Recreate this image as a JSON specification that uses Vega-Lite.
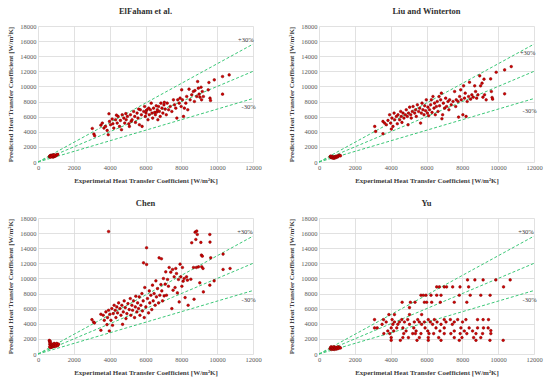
{
"$schema": "https://vega.github.io/schema/vega-lite/v6.json",
"background": "white",
"padding": {"left": 6, "top": 6, "right": 4, "bottom": 4},
"config": {
 "font": "Liberation Serif",
 "view": {"stroke": null},
 "axis": {"grid": true, "gridColor": "#d9d9d9", "gridWidth": 0.8, "domain": false, "ticks": false, "labelFont": "Liberation Serif", "labelFontSize": 6.5, "labelColor": "#595959", "labelOverlap": false, "labelFlush": false, "titleFont": "Liberation Serif", "titleFontSize": 7, "titleFontWeight": "bold", "titleColor": "#404040", "labelPadding": 2, "titlePadding": 6},
 "title": {"font": "Liberation Serif", "fontSize": 8.5, "fontWeight": "bold", "color": "#303030", "offset": 8, "anchor": "middle"}
},
"datasets": {
 "ref": [
  {"g":"a","x":0,"y":0},{"g":"a","x":12000,"y":15600},
  {"g":"b","x":0,"y":0},{"g":"b","x":12000,"y":12000},
  {"g":"c","x":0,"y":0},{"g":"c","x":12000,"y":8400}
 ],
 "lab": [
  {"p":"E","t":"+30%","x":11600,"y":16100},{"p":"E","t":"-30%","x":11750,"y":7300},
  {"p":"L","t":"+30%","x":11650,"y":14450},{"p":"L","t":"-30%","x":11750,"y":6750},
  {"p":"C","t":"+30%","x":11550,"y":16150},{"p":"C","t":"-30%","x":11750,"y":7150},
  {"p":"Y","t":"+30%","x":11550,"y":16150},{"p":"Y","t":"-30%","x":11750,"y":7150}
 ],
 "pts": [
  {"p":"E","x":3030,"y":4440},{"p":"E","x":3120,"y":3700},{"p":"E","x":3160,"y":3480},{"p":"E","x":3510,"y":4880},{"p":"E","x":3590,"y":5150},{"p":"E","x":3680,"y":4490},{"p":"E","x":3770,"y":4710},{"p":"E","x":3860,"y":4180},{"p":"E","x":3920,"y":3610},{"p":"E","x":3960,"y":6380},{"p":"E","x":3990,"y":5370},{"p":"E","x":4050,"y":4930},{"p":"E","x":4140,"y":5680},{"p":"E","x":4180,"y":5060},{"p":"E","x":4230,"y":4490},{"p":"E","x":4330,"y":5590},{"p":"E","x":4380,"y":6200},{"p":"E","x":4420,"y":5150},{"p":"E","x":4470,"y":6030},{"p":"E","x":4550,"y":4710},{"p":"E","x":4600,"y":5500},{"p":"E","x":4660,"y":4270},{"p":"E","x":4700,"y":6250},{"p":"E","x":4790,"y":5810},{"p":"E","x":4840,"y":5150},{"p":"E","x":4900,"y":6400},{"p":"E","x":4920,"y":5590},{"p":"E","x":4990,"y":6030},{"p":"E","x":5070,"y":5060},{"p":"E","x":5100,"y":4710},{"p":"E","x":5160,"y":6250},{"p":"E","x":5200,"y":5400},{"p":"E","x":5250,"y":5590},{"p":"E","x":5340,"y":6690},{"p":"E","x":5400,"y":6030},{"p":"E","x":5440,"y":5240},{"p":"E","x":5530,"y":6470},{"p":"E","x":5580,"y":5810},{"p":"E","x":5620,"y":7000},{"p":"E","x":5660,"y":4930},{"p":"E","x":5710,"y":6910},{"p":"E","x":5770,"y":6250},{"p":"E","x":5810,"y":4710},{"p":"E","x":5900,"y":6690},{"p":"E","x":5950,"y":7350},{"p":"E","x":5990,"y":6030},{"p":"E","x":6030,"y":6470},{"p":"E","x":6050,"y":6800},{"p":"E","x":6080,"y":6910},{"p":"E","x":6140,"y":5590},{"p":"E","x":6180,"y":7130},{"p":"E","x":6210,"y":6250},{"p":"E","x":6270,"y":6910},{"p":"E","x":6320,"y":7790},{"p":"E","x":6360,"y":6470},{"p":"E","x":6400,"y":5810},{"p":"E","x":6450,"y":7130},{"p":"E","x":6510,"y":6560},{"p":"E","x":6550,"y":6250},{"p":"E","x":6600,"y":7440},{"p":"E","x":6620,"y":6600},{"p":"E","x":6660,"y":6910},{"p":"E","x":6690,"y":5590},{"p":"E","x":6730,"y":7350},{"p":"E","x":6770,"y":6690},{"p":"E","x":6820,"y":6030},{"p":"E","x":6860,"y":7790},{"p":"E","x":6920,"y":7130},{"p":"E","x":6970,"y":6470},{"p":"E","x":7030,"y":7570},{"p":"E","x":7050,"y":7900},{"p":"E","x":7100,"y":7000},{"p":"E","x":7160,"y":6250},{"p":"E","x":7210,"y":7790},{"p":"E","x":7290,"y":6910},{"p":"E","x":7380,"y":7350},{"p":"E","x":7470,"y":6690},{"p":"E","x":7560,"y":8230},{"p":"E","x":7620,"y":7570},{"p":"E","x":7690,"y":7130},{"p":"E","x":7750,"y":5810},{"p":"E","x":7800,"y":8230},{"p":"E","x":7880,"y":7790},{"p":"E","x":7930,"y":8450},{"p":"E","x":7990,"y":7350},{"p":"E","x":8020,"y":9550},{"p":"E","x":8060,"y":8230},{"p":"E","x":8120,"y":6030},{"p":"E","x":8170,"y":7130},{"p":"E","x":8250,"y":7790},{"p":"E","x":8300,"y":8670},{"p":"E","x":8360,"y":6910},{"p":"E","x":8430,"y":9640},{"p":"E","x":8490,"y":8230},{"p":"E","x":8580,"y":8890},{"p":"E","x":8670,"y":9330},{"p":"E","x":8730,"y":8010},{"p":"E","x":8760,"y":9460},{"p":"E","x":8860,"y":8670},{"p":"E","x":8910,"y":10650},{"p":"E","x":8950,"y":9770},{"p":"E","x":8990,"y":8980},{"p":"E","x":9040,"y":8580},{"p":"E","x":9100,"y":9900},{"p":"E","x":9130,"y":8230},{"p":"E","x":9170,"y":9330},{"p":"E","x":9230,"y":8670},{"p":"E","x":9500,"y":9550},{"p":"E","x":9540,"y":10520},{"p":"E","x":9600,"y":8450},{"p":"E","x":9630,"y":8140},{"p":"E","x":9840,"y":10870},{"p":"E","x":10300,"y":11310},{"p":"E","x":10300,"y":8980},{"p":"E","x":10670,"y":11530},
  {"p":"E","x":640,"y":700},{"p":"E","x":660,"y":800},{"p":"E","x":680,"y":760},{"p":"E","x":700,"y":850},{"p":"E","x":720,"y":780},{"p":"E","x":740,"y":900},{"p":"E","x":760,"y":700},{"p":"E","x":780,"y":820},{"p":"E","x":800,"y":880},{"p":"E","x":820,"y":760},{"p":"E","x":840,"y":650},{"p":"E","x":860,"y":900},{"p":"E","x":880,"y":800},{"p":"E","x":900,"y":720},{"p":"E","x":920,"y":850},{"p":"E","x":950,"y":780},{"p":"E","x":980,"y":900},{"p":"E","x":1000,"y":820},{"p":"E","x":1050,"y":950},{"p":"E","x":1100,"y":1000},{"p":"E","x":700,"y":650},{"p":"E","x":750,"y":800},{"p":"E","x":820,"y":900},{"p":"E","x":900,"y":950},

  {"p":"L","x":3110,"y":4710},{"p":"L","x":3160,"y":4050},{"p":"L","x":3570,"y":3740},{"p":"L","x":3570,"y":5370},{"p":"L","x":3660,"y":5150},{"p":"L","x":3760,"y":4930},{"p":"L","x":3850,"y":5500},{"p":"L","x":3940,"y":6250},{"p":"L","x":4000,"y":5150},{"p":"L","x":4040,"y":4360},{"p":"L","x":4070,"y":5810},{"p":"L","x":4130,"y":4710},{"p":"L","x":4190,"y":6470},{"p":"L","x":4220,"y":5590},{"p":"L","x":4320,"y":6030},{"p":"L","x":4370,"y":5060},{"p":"L","x":4410,"y":6250},{"p":"L","x":4500,"y":5590},{"p":"L","x":4560,"y":6690},{"p":"L","x":4590,"y":6030},{"p":"L","x":4630,"y":5240},{"p":"L","x":4690,"y":6470},{"p":"L","x":4740,"y":5810},{"p":"L","x":4820,"y":6250},{"p":"L","x":4870,"y":6910},{"p":"L","x":4930,"y":6030},{"p":"L","x":4970,"y":4930},{"p":"L","x":5000,"y":6470},{"p":"L","x":5060,"y":7260},{"p":"L","x":5120,"y":6250},{"p":"L","x":5150,"y":5810},{"p":"L","x":5210,"y":6690},{"p":"L","x":5250,"y":7350},{"p":"L","x":5340,"y":6470},{"p":"L","x":5390,"y":6910},{"p":"L","x":5430,"y":6030},{"p":"L","x":5490,"y":7570},{"p":"L","x":5560,"y":6690},{"p":"L","x":5620,"y":7130},{"p":"L","x":5670,"y":5150},{"p":"L","x":5710,"y":6470},{"p":"L","x":5750,"y":7790},{"p":"L","x":5800,"y":6910},{"p":"L","x":5860,"y":6250},{"p":"L","x":5900,"y":7440},{"p":"L","x":5950,"y":6780},{"p":"L","x":5990,"y":8230},{"p":"L","x":6050,"y":6470},{"p":"L","x":6080,"y":7260},{"p":"L","x":6120,"y":6120},{"p":"L","x":6170,"y":6910},{"p":"L","x":6230,"y":7570},{"p":"L","x":6270,"y":8230},{"p":"L","x":6310,"y":6560},{"p":"L","x":6360,"y":8670},{"p":"L","x":6420,"y":7130},{"p":"L","x":6450,"y":7790},{"p":"L","x":6490,"y":6250},{"p":"L","x":6550,"y":7350},{"p":"L","x":6600,"y":8010},{"p":"L","x":6640,"y":6690},{"p":"L","x":6700,"y":8670},{"p":"L","x":6730,"y":7440},{"p":"L","x":6790,"y":8230},{"p":"L","x":6830,"y":9110},{"p":"L","x":6860,"y":5720},{"p":"L","x":6900,"y":6250},{"p":"L","x":6940,"y":7790},{"p":"L","x":7010,"y":7130},{"p":"L","x":7070,"y":8450},{"p":"L","x":7120,"y":7350},{"p":"L","x":7200,"y":8010},{"p":"L","x":7250,"y":6910},{"p":"L","x":7290,"y":8230},{"p":"L","x":7380,"y":7570},{"p":"L","x":7480,"y":8010},{"p":"L","x":7570,"y":9330},{"p":"L","x":7630,"y":7350},{"p":"L","x":7660,"y":8230},{"p":"L","x":7760,"y":8010},{"p":"L","x":7790,"y":5940},{"p":"L","x":7850,"y":8670},{"p":"L","x":7910,"y":9550},{"p":"L","x":7940,"y":8230},{"p":"L","x":8030,"y":6250},{"p":"L","x":8070,"y":10080},{"p":"L","x":8120,"y":8450},{"p":"L","x":8160,"y":9110},{"p":"L","x":8210,"y":6030},{"p":"L","x":8270,"y":8010},{"p":"L","x":8350,"y":8670},{"p":"L","x":8400,"y":10560},{"p":"L","x":8460,"y":8320},{"p":"L","x":8530,"y":8890},{"p":"L","x":8610,"y":8580},{"p":"L","x":8690,"y":10080},{"p":"L","x":8740,"y":9330},{"p":"L","x":8800,"y":8450},{"p":"L","x":8870,"y":8890},{"p":"L","x":8970,"y":11400},{"p":"L","x":9020,"y":10080},{"p":"L","x":9100,"y":10430},{"p":"L","x":9150,"y":8580},{"p":"L","x":9210,"y":10960},{"p":"L","x":9240,"y":8890},{"p":"L","x":9330,"y":8230},{"p":"L","x":9580,"y":11000},{"p":"L","x":9620,"y":9330},{"p":"L","x":9660,"y":8540},{"p":"L","x":9690,"y":8320},{"p":"L","x":9890,"y":11880},{"p":"L","x":10360,"y":12190},{"p":"L","x":10360,"y":9020},{"p":"L","x":10730,"y":12630},
  {"p":"L","x":620,"y":700},{"p":"L","x":650,"y":780},{"p":"L","x":680,"y":620},{"p":"L","x":700,"y":560},{"p":"L","x":720,"y":750},{"p":"L","x":750,"y":600},{"p":"L","x":780,"y":520},{"p":"L","x":800,"y":680},{"p":"L","x":830,"y":560},{"p":"L","x":850,"y":500},{"p":"L","x":880,"y":620},{"p":"L","x":900,"y":700},{"p":"L","x":930,"y":560},{"p":"L","x":960,"y":760},{"p":"L","x":1000,"y":650},{"p":"L","x":1030,"y":800},{"p":"L","x":1060,"y":700},{"p":"L","x":1100,"y":850},{"p":"L","x":1150,"y":900},{"p":"L","x":1200,"y":820},

  {"p":"C","x":3940,"y":16220},{"p":"C","x":3010,"y":4550},{"p":"C","x":3100,"y":4240},{"p":"C","x":3150,"y":4110},{"p":"C","x":3510,"y":3140},{"p":"C","x":3510,"y":5260},{"p":"C","x":3640,"y":5130},{"p":"C","x":3700,"y":4460},{"p":"C","x":3790,"y":5570},{"p":"C","x":3850,"y":3890},{"p":"C","x":3880,"y":4820},{"p":"C","x":3940,"y":5790},{"p":"C","x":3980,"y":3050},{"p":"C","x":4010,"y":5260},{"p":"C","x":4070,"y":4460},{"p":"C","x":4120,"y":6010},{"p":"C","x":4160,"y":3800},{"p":"C","x":4200,"y":5350},{"p":"C","x":4250,"y":6450},{"p":"C","x":4310,"y":5790},{"p":"C","x":4350,"y":4820},{"p":"C","x":4400,"y":6230},{"p":"C","x":4440,"y":5440},{"p":"C","x":4500,"y":6760},{"p":"C","x":4570,"y":6010},{"p":"C","x":4630,"y":5130},{"p":"C","x":4680,"y":6450},{"p":"C","x":4720,"y":3930},{"p":"C","x":4760,"y":5570},{"p":"C","x":4810,"y":7030},{"p":"C","x":4870,"y":6140},{"p":"C","x":4910,"y":4690},{"p":"C","x":4960,"y":5350},{"p":"C","x":5020,"y":6670},{"p":"C","x":5090,"y":5880},{"p":"C","x":5150,"y":7340},{"p":"C","x":5180,"y":5130},{"p":"C","x":5240,"y":6450},{"p":"C","x":5280,"y":5790},{"p":"C","x":5330,"y":7030},{"p":"C","x":5390,"y":4820},{"p":"C","x":5430,"y":6230},{"p":"C","x":5460,"y":7650},{"p":"C","x":5520,"y":5570},{"p":"C","x":5560,"y":6760},{"p":"C","x":5610,"y":6010},{"p":"C","x":5650,"y":7560},{"p":"C","x":5690,"y":5130},{"p":"C","x":5740,"y":6450},{"p":"C","x":5800,"y":8000},{"p":"C","x":5830,"y":5700},{"p":"C","x":5870,"y":7030},{"p":"C","x":5890,"y":12070},{"p":"C","x":5930,"y":4820},{"p":"C","x":5960,"y":8800},{"p":"C","x":6020,"y":6230},{"p":"C","x":6060,"y":11850},{"p":"C","x":6060,"y":14060},{"p":"C","x":6110,"y":7340},{"p":"C","x":6170,"y":5440},{"p":"C","x":6210,"y":8350},{"p":"C","x":6240,"y":6760},{"p":"C","x":6300,"y":7780},{"p":"C","x":6350,"y":5880},{"p":"C","x":6390,"y":9110},{"p":"C","x":6430,"y":7030},{"p":"C","x":6480,"y":8000},{"p":"C","x":6540,"y":6450},{"p":"C","x":6580,"y":9680},{"p":"C","x":6610,"y":7560},{"p":"C","x":6670,"y":8660},{"p":"C","x":6730,"y":6760},{"p":"C","x":6760,"y":12730},{"p":"C","x":6800,"y":7780},{"p":"C","x":6860,"y":9190},{"p":"C","x":6890,"y":12600},{"p":"C","x":6910,"y":8350},{"p":"C","x":6950,"y":7030},{"p":"C","x":7000,"y":9990},{"p":"C","x":7040,"y":7690},{"p":"C","x":7100,"y":9240},{"p":"C","x":7130,"y":10870},{"p":"C","x":7170,"y":7780},{"p":"C","x":7230,"y":9860},{"p":"C","x":7280,"y":8970},{"p":"C","x":7320,"y":11450},{"p":"C","x":7410,"y":10830},{"p":"C","x":7470,"y":6010},{"p":"C","x":7510,"y":11190},{"p":"C","x":7540,"y":8440},{"p":"C","x":7600,"y":10210},{"p":"C","x":7650,"y":8800},{"p":"C","x":7690,"y":11320},{"p":"C","x":7730,"y":10650},{"p":"C","x":7780,"y":8090},{"p":"C","x":7840,"y":9860},{"p":"C","x":7880,"y":6890},{"p":"C","x":7930,"y":11890},{"p":"C","x":7970,"y":10210},{"p":"C","x":8030,"y":8970},{"p":"C","x":8060,"y":11450},{"p":"C","x":8100,"y":9640},{"p":"C","x":8160,"y":9990},{"p":"C","x":8210,"y":7470},{"p":"C","x":8290,"y":10210},{"p":"C","x":8340,"y":9770},{"p":"C","x":8380,"y":6450},{"p":"C","x":8530,"y":9900},{"p":"C","x":8580,"y":14720},{"p":"C","x":8680,"y":11450},{"p":"C","x":8710,"y":7250},{"p":"C","x":8770,"y":16130},{"p":"C","x":8810,"y":15160},{"p":"C","x":8840,"y":11450},{"p":"C","x":8860,"y":16270},{"p":"C","x":8890,"y":15820},{"p":"C","x":8960,"y":11540},{"p":"C","x":9030,"y":9420},{"p":"C","x":9090,"y":14770},{"p":"C","x":9120,"y":13090},{"p":"C","x":9140,"y":11540},{"p":"C","x":9170,"y":12950},{"p":"C","x":9210,"y":11320},{"p":"C","x":9230,"y":8220},{"p":"C","x":9590,"y":15820},{"p":"C","x":9600,"y":14810},{"p":"C","x":9590,"y":9110},{"p":"C","x":9640,"y":12730},{"p":"C","x":9830,"y":9680},{"p":"C","x":10330,"y":13220},{"p":"C","x":10330,"y":11190},{"p":"C","x":10720,"y":11320},
  {"p":"C","x":630,"y":1800},{"p":"C","x":650,"y":1600},{"p":"C","x":660,"y":1300},{"p":"C","x":680,"y":1700},{"p":"C","x":700,"y":1400},{"p":"C","x":710,"y":1100},{"p":"C","x":720,"y":1200},{"p":"C","x":740,"y":900},{"p":"C","x":760,"y":1000},{"p":"C","x":780,"y":1300},{"p":"C","x":800,"y":1100},{"p":"C","x":820,"y":950},{"p":"C","x":850,"y":1200},{"p":"C","x":880,"y":1000},{"p":"C","x":900,"y":1400},{"p":"C","x":920,"y":1100},{"p":"C","x":950,"y":1300},{"p":"C","x":980,"y":1000},{"p":"C","x":1000,"y":1200},{"p":"C","x":1050,"y":1400},{"p":"C","x":1100,"y":1100},{"p":"C","x":1150,"y":1300},{"p":"C","x":700,"y":850},{"p":"C","x":650,"y":950},

  {"p":"Y","x":8290,"y":9810},{"p":"Y","x":8700,"y":9810},{"p":"Y","x":9160,"y":9810},{"p":"Y","x":9870,"y":9810},{"p":"Y","x":10670,"y":9810},
  {"p":"Y","x":6570,"y":8880},{"p":"Y","x":6720,"y":8880},{"p":"Y","x":6990,"y":8880},{"p":"Y","x":7120,"y":8880},{"p":"Y","x":7460,"y":8880},{"p":"Y","x":7870,"y":8880},{"p":"Y","x":8350,"y":8880},{"p":"Y","x":10300,"y":8880},
  {"p":"Y","x":5690,"y":7780},{"p":"Y","x":5820,"y":7780},{"p":"Y","x":5970,"y":7780},{"p":"Y","x":6250,"y":7780},{"p":"Y","x":6570,"y":7780},{"p":"Y","x":6810,"y":7780},{"p":"Y","x":7830,"y":7780},{"p":"Y","x":8440,"y":7780},{"p":"Y","x":9030,"y":7780},{"p":"Y","x":9550,"y":7780},
  {"p":"Y","x":4640,"y":6850},{"p":"Y","x":5100,"y":6850},{"p":"Y","x":5360,"y":6850},{"p":"Y","x":5880,"y":6850},{"p":"Y","x":6010,"y":6850},{"p":"Y","x":6290,"y":6850},{"p":"Y","x":6770,"y":6850},{"p":"Y","x":7550,"y":6850},{"p":"Y","x":8250,"y":6850},
  {"p":"Y","x":5050,"y":6140},
  {"p":"Y","x":3900,"y":5220},{"p":"Y","x":4210,"y":5220},{"p":"Y","x":5050,"y":5220},{"p":"Y","x":5730,"y":5220},
  {"p":"Y","x":3100,"y":4550},{"p":"Y","x":3600,"y":4550},{"p":"Y","x":4080,"y":4550},{"p":"Y","x":4620,"y":4550},{"p":"Y","x":4950,"y":4550},{"p":"Y","x":5510,"y":4550},{"p":"Y","x":6100,"y":4550},{"p":"Y","x":6440,"y":4550},{"p":"Y","x":6990,"y":4550},{"p":"Y","x":7330,"y":4550},{"p":"Y","x":7740,"y":4550},{"p":"Y","x":8200,"y":4550},{"p":"Y","x":8850,"y":4550},{"p":"Y","x":9160,"y":4550},{"p":"Y","x":9460,"y":4550},
  {"p":"Y","x":3750,"y":4240},{"p":"Y","x":4210,"y":4240},{"p":"Y","x":4490,"y":4240},{"p":"Y","x":4770,"y":4240},{"p":"Y","x":5320,"y":4240},{"p":"Y","x":5600,"y":4240},{"p":"Y","x":5880,"y":4240},{"p":"Y","x":6210,"y":4240},{"p":"Y","x":6590,"y":4240},{"p":"Y","x":7090,"y":4240},{"p":"Y","x":7550,"y":4240},{"p":"Y","x":8010,"y":4240},
  {"p":"Y","x":3520,"y":3930},{"p":"Y","x":4120,"y":3930},{"p":"Y","x":4400,"y":3930},{"p":"Y","x":5050,"y":3930},{"p":"Y","x":5730,"y":3930},{"p":"Y","x":6340,"y":3930},{"p":"Y","x":6810,"y":3930},{"p":"Y","x":7440,"y":3930},
  {"p":"Y","x":3100,"y":3450},{"p":"Y","x":3250,"y":3450},{"p":"Y","x":4030,"y":3450},{"p":"Y","x":4340,"y":3450},{"p":"Y","x":4680,"y":3450},{"p":"Y","x":5290,"y":3450},{"p":"Y","x":5920,"y":3450},{"p":"Y","x":6530,"y":3450},{"p":"Y","x":6990,"y":3450},{"p":"Y","x":7920,"y":3450},{"p":"Y","x":8380,"y":3450},{"p":"Y","x":8850,"y":3450},{"p":"Y","x":9180,"y":3450},{"p":"Y","x":9440,"y":3450},
  {"p":"Y","x":3840,"y":3050},{"p":"Y","x":4170,"y":3050},{"p":"Y","x":4860,"y":3050},{"p":"Y","x":5420,"y":3050},{"p":"Y","x":6070,"y":3050},{"p":"Y","x":6750,"y":3050},{"p":"Y","x":7550,"y":3050},{"p":"Y","x":8110,"y":3050},{"p":"Y","x":8570,"y":3050},{"p":"Y","x":9590,"y":3100},
  {"p":"Y","x":3620,"y":2700},{"p":"Y","x":3950,"y":2700},{"p":"Y","x":4730,"y":2700},{"p":"Y","x":5230,"y":2700},{"p":"Y","x":5380,"y":2700},{"p":"Y","x":5690,"y":2700},{"p":"Y","x":6140,"y":2700},{"p":"Y","x":6400,"y":2700},{"p":"Y","x":6990,"y":2700},{"p":"Y","x":7360,"y":2700},{"p":"Y","x":7880,"y":2700},{"p":"Y","x":8250,"y":2700},{"p":"Y","x":8760,"y":2700},{"p":"Y","x":9130,"y":2700},{"p":"Y","x":9590,"y":2700},
  {"p":"Y","x":4030,"y":2170},{"p":"Y","x":4680,"y":2170},{"p":"Y","x":4990,"y":2170},{"p":"Y","x":5600,"y":2170},{"p":"Y","x":6100,"y":2170},{"p":"Y","x":6680,"y":2170},{"p":"Y","x":7550,"y":2170},{"p":"Y","x":7980,"y":2170},{"p":"Y","x":8630,"y":2170},{"p":"Y","x":9030,"y":2170},
  {"p":"Y","x":4030,"y":1810},{"p":"Y","x":4540,"y":1810},{"p":"Y","x":5470,"y":1810},{"p":"Y","x":6100,"y":1810},{"p":"Y","x":6810,"y":1810},{"p":"Y","x":7830,"y":1810},{"p":"Y","x":8760,"y":1810},{"p":"Y","x":9540,"y":1810},{"p":"Y","x":10280,"y":1810},
  {"p":"Y","x":620,"y":700},{"p":"Y","x":650,"y":850},{"p":"Y","x":680,"y":950},{"p":"Y","x":700,"y":600},{"p":"Y","x":720,"y":800},{"p":"Y","x":750,"y":900},{"p":"Y","x":780,"y":650},{"p":"Y","x":800,"y":750},{"p":"Y","x":830,"y":950},{"p":"Y","x":850,"y":600},{"p":"Y","x":880,"y":800},{"p":"Y","x":900,"y":700},{"p":"Y","x":930,"y":900},{"p":"Y","x":960,"y":650},{"p":"Y","x":1000,"y":850},{"p":"Y","x":1030,"y":700},{"p":"Y","x":1060,"y":950},{"p":"Y","x":1100,"y":750},{"p":"Y","x":1150,"y":900},{"p":"Y","x":1200,"y":800}
 ]
},
"columns": 2,
"spacing": {"row": 14, "column": 25},
"concat": [
 {"title": "ElFaham et al.", "width": 215, "height": 136,
  "encoding": {"x": {"field": "x", "type": "quantitative", "scale": {"domain": [0, 12000], "nice": false}, "axis": {"title": "Experimetal Heat Transfer Coefficient [W/m²K]", "values": [0,2000,4000,6000,8000,10000,12000], "tickCount": 7, "labelOverlap": false, "format": "d"}},
               "y": {"field": "y", "type": "quantitative", "scale": {"domain": [0, 18000], "nice": false}, "axis": {"title": "Predicted Heat Transfer Coefficient [W/m²K]", "values": [0,2000,4000,6000,8000,10000,12000,14000,16000,18000], "tickCount": 10, "labelOverlap": false, "format": "d"}}},
  "layer": [
   {"data": {"name": "ref"}, "mark": {"type": "line", "strokeDash": [3, 2], "color": "#3cc878", "strokeWidth": 1}, "encoding": {"detail": {"field": "g"}}},
   {"data": {"name": "pts"}, "transform": [{"filter": "datum.p === 'E'"}], "mark": {"type": "point", "filled": true, "size": 7, "fill": "#d40000", "stroke": "#7a0000", "strokeWidth": 0.5, "opacity": 1}},
   {"data": {"name": "lab"}, "transform": [{"filter": "datum.p === 'E'"}], "mark": {"type": "text", "fontSize": 6.5, "color": "#404040", "font": "Liberation Serif"}, "encoding": {"text": {"field": "t"}}}
  ]},
 {"title": "Liu and Winterton", "width": 215, "height": 136,
  "encoding": {"x": {"field": "x", "type": "quantitative", "scale": {"domain": [0, 12000], "nice": false}, "axis": {"title": "Experimetal Heat Transfer Coefficient [W/m²K]", "values": [0,2000,4000,6000,8000,10000,12000], "tickCount": 7, "labelOverlap": false, "format": "d"}},
               "y": {"field": "y", "type": "quantitative", "scale": {"domain": [0, 18000], "nice": false}, "axis": {"title": "Predicted Heat Transfer Coefficient [W/m²K]", "values": [0,2000,4000,6000,8000,10000,12000,14000,16000,18000], "tickCount": 10, "labelOverlap": false, "format": "d"}}},
  "layer": [
   {"data": {"name": "ref"}, "mark": {"type": "line", "strokeDash": [3, 2], "color": "#3cc878", "strokeWidth": 1}, "encoding": {"detail": {"field": "g"}}},
   {"data": {"name": "pts"}, "transform": [{"filter": "datum.p === 'L'"}], "mark": {"type": "point", "filled": true, "size": 7, "fill": "#d40000", "stroke": "#7a0000", "strokeWidth": 0.5, "opacity": 1}},
   {"data": {"name": "lab"}, "transform": [{"filter": "datum.p === 'L'"}], "mark": {"type": "text", "fontSize": 6.5, "color": "#404040", "font": "Liberation Serif"}, "encoding": {"text": {"field": "t"}}}
  ]},
 {"title": "Chen", "width": 215, "height": 136,
  "encoding": {"x": {"field": "x", "type": "quantitative", "scale": {"domain": [0, 12000], "nice": false}, "axis": {"title": "Experimetal Heat Transfer Coefficient [W/m²K]", "values": [0,2000,4000,6000,8000,10000,12000], "tickCount": 7, "labelOverlap": false, "format": "d"}},
               "y": {"field": "y", "type": "quantitative", "scale": {"domain": [0, 18000], "nice": false}, "axis": {"title": "Predicted Heat Transfer Coefficient [W/m²K]", "values": [0,2000,4000,6000,8000,10000,12000,14000,16000,18000], "tickCount": 10, "labelOverlap": false, "format": "d"}}},
  "layer": [
   {"data": {"name": "ref"}, "mark": {"type": "line", "strokeDash": [3, 2], "color": "#3cc878", "strokeWidth": 1}, "encoding": {"detail": {"field": "g"}}},
   {"data": {"name": "pts"}, "transform": [{"filter": "datum.p === 'C'"}], "mark": {"type": "point", "filled": true, "size": 7, "fill": "#d40000", "stroke": "#7a0000", "strokeWidth": 0.5, "opacity": 1}},
   {"data": {"name": "lab"}, "transform": [{"filter": "datum.p === 'C'"}], "mark": {"type": "text", "fontSize": 6.5, "color": "#404040", "font": "Liberation Serif"}, "encoding": {"text": {"field": "t"}}}
  ]},
 {"title": "Yu", "width": 215, "height": 136,
  "encoding": {"x": {"field": "x", "type": "quantitative", "scale": {"domain": [0, 12000], "nice": false}, "axis": {"title": "Experimetal Heat Transfer Coefficient [W/m²K]", "values": [0,2000,4000,6000,8000,10000,12000], "tickCount": 7, "labelOverlap": false, "format": "d"}},
               "y": {"field": "y", "type": "quantitative", "scale": {"domain": [0, 18000], "nice": false}, "axis": {"title": "Predicted Heat Transfer Coefficient [W/m²K]", "values": [0,2000,4000,6000,8000,10000,12000,14000,16000,18000], "tickCount": 10, "labelOverlap": false, "format": "d"}}},
  "layer": [
   {"data": {"name": "ref"}, "mark": {"type": "line", "strokeDash": [3, 2], "color": "#3cc878", "strokeWidth": 1}, "encoding": {"detail": {"field": "g"}}},
   {"data": {"name": "pts"}, "transform": [{"filter": "datum.p === 'Y'"}], "mark": {"type": "point", "filled": true, "size": 7, "fill": "#d40000", "stroke": "#7a0000", "strokeWidth": 0.5, "opacity": 1}},
   {"data": {"name": "lab"}, "transform": [{"filter": "datum.p === 'Y'"}], "mark": {"type": "text", "fontSize": 6.5, "color": "#404040", "font": "Liberation Serif"}, "encoding": {"text": {"field": "t"}}}
  ]}
]
}
